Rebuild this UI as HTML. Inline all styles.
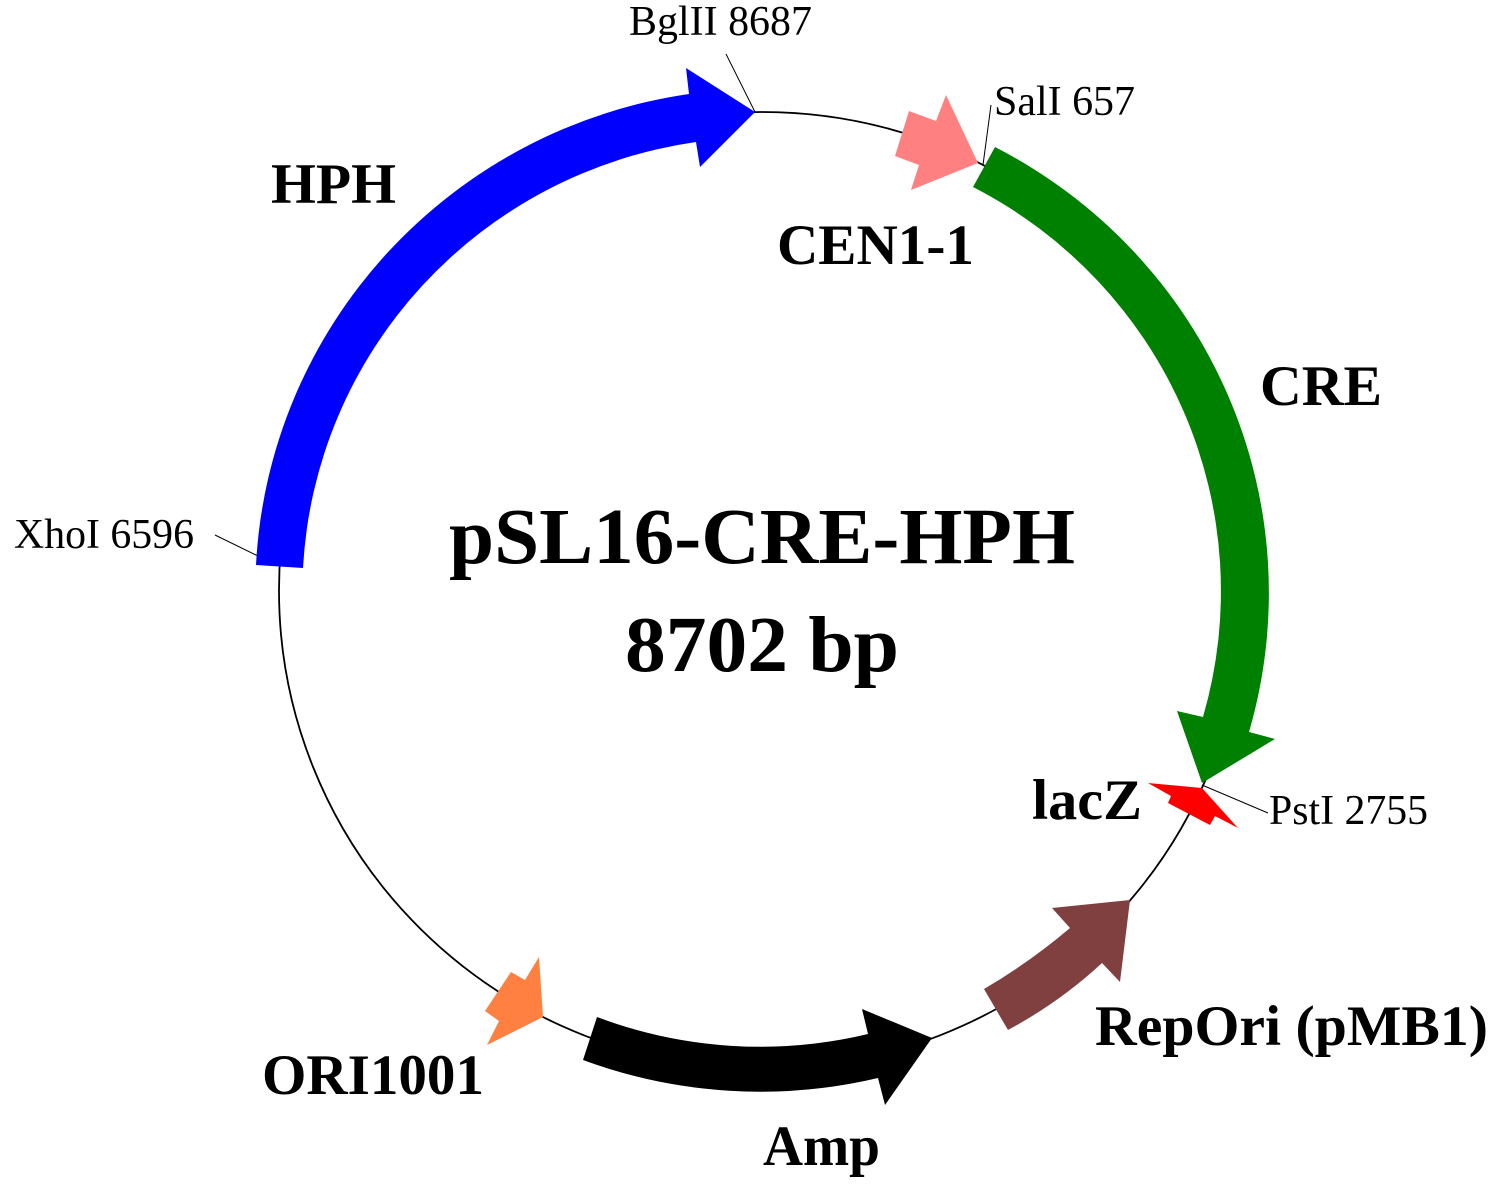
<!DOCTYPE html>
<html><head><meta charset="utf-8"><style>
html,body{margin:0;padding:0;background:#fff}
svg{display:block}
text{font-family:"Liberation Serif",serif;fill:#000}
.b{font-weight:bold;font-size:57px}
.s{font-size:42px}
.t{font-weight:bold;font-size:79px}
</style></head><body>
<svg width="1500" height="1191" viewBox="0 0 1500 1191" xmlns="http://www.w3.org/2000/svg">
<ellipse cx="762" cy="590.5" rx="483" ry="478.5" fill="none" stroke="#000" stroke-width="1.8"/>
<g stroke="#000" stroke-width="1" fill="none">
<line x1="726" y1="54" x2="755" y2="112"/>
<line x1="991" y1="105" x2="983" y2="165"/>
<line x1="1268" y1="813" x2="1202" y2="785"/>
<line x1="215" y1="535" x2="258" y2="556"/>
</g>
<path fill="#0000ff" d="M256 565 A507 502 0 0 1 689 94 L686 68 L755 112 L700 167 L696 142 A459 455 0 0 0 303 568 Z"/>
<path fill="#ff8080" d="M946 95 L936 121 L909 111 L895 156 L919 165 L911 190 L978 163 Z"/>
<path fill="#008000" d="M995 147 A507 502 0 0 1 1249 732 L1275 739 L1202 783 L1177 711 L1203 717 A459 455 0 0 0 973 187 Z"/>
<path fill="#ff0000" d="M1148 783 L1202 788 L1238 828 L1215 816 L1210 825 L1168 803 L1171 796 Z"/>
<path fill="#804040" d="M984 989 Q1030 962 1070 928 L1052 908 L1130 900 L1120 982 L1102 963 Q1060 1002 1008 1030 Z"/>
<path fill="#000" d="M597 1017 A459 455 0 0 0 868 1034 L862 1009 L932 1038 L885 1105 L878 1078 A507 502 0 0 1 583 1060 Z"/>
<path fill="#ff8040" d="M539 957 L525 980 L511 972 L485 1011 L499 1021 L487 1045 L543 1017 Z"/>
<text class="t" x="762" y="563" text-anchor="middle" textLength="626" lengthAdjust="spacingAndGlyphs">pSL16-CRE-HPH</text>
<text class="t" x="762" y="671" text-anchor="middle" textLength="274" lengthAdjust="spacingAndGlyphs">8702 bp</text>
<text class="b" x="271" y="203" textLength="125" lengthAdjust="spacingAndGlyphs">HPH</text>
<text class="b" x="777" y="264" textLength="197" lengthAdjust="spacingAndGlyphs">CEN1-1</text>
<text class="b" x="1260" y="405" textLength="122" lengthAdjust="spacingAndGlyphs">CRE</text>
<text class="b" x="1032" y="819" textLength="110" lengthAdjust="spacingAndGlyphs">lacZ</text>
<text class="b" x="1095" y="1045" textLength="393" lengthAdjust="spacingAndGlyphs">RepOri (pMB1)</text>
<text class="b" x="262" y="1094" textLength="222" lengthAdjust="spacingAndGlyphs">ORI1001</text>
<text class="b" x="763" y="1165" textLength="117" lengthAdjust="spacingAndGlyphs">Amp</text>
<text class="s" x="629" y="35" textLength="183" lengthAdjust="spacingAndGlyphs">BglII 8687</text>
<text class="s" x="994" y="115" textLength="141" lengthAdjust="spacingAndGlyphs">SalI 657</text>
<text class="s" x="1269" y="824" textLength="159" lengthAdjust="spacingAndGlyphs">PstI 2755</text>
<text class="s" x="14" y="548" textLength="180" lengthAdjust="spacingAndGlyphs">XhoI 6596</text>
</svg>
</body></html>
